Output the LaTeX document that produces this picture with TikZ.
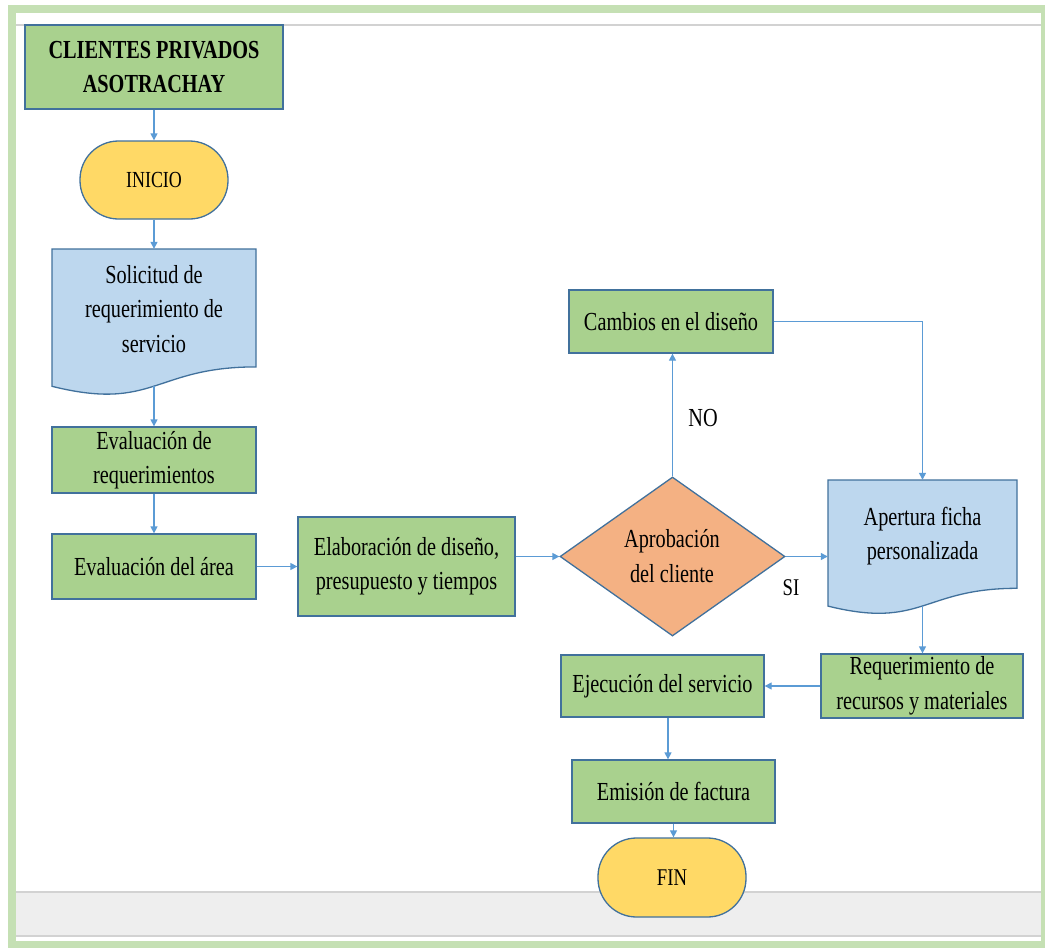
\documentclass[tikz,border=0pt]{standalone}
\usepackage{fontspec}
\setmainfont{Liberation Serif}[FakeStretch=0.78]
\usetikzlibrary{shapes.geometric,arrows.meta,calc}
\definecolor{frameG}{HTML}{C5E0B4}
\definecolor{boxG}{HTML}{A9D18E}
\definecolor{boxY}{HTML}{FFD966}
\definecolor{boxB}{HTML}{BDD7EE}
\definecolor{boxO}{HTML}{F4B183}
\definecolor{edgeC}{HTML}{41719C}
\definecolor{arrC}{HTML}{5B9BD5}
\definecolor{lineG}{HTML}{D2D2D2}
\definecolor{bandG}{HTML}{EEEEEE}
\begin{document}
\begin{tikzpicture}[x=1pt,y=-1pt,
  fnt/.style={font=\fontsize{26}{34.5}\selectfont},
  box/.style={draw=edgeC, line width=1.3pt, fill=boxG, inner sep=0pt, align=center, fnt},
  term/.style={box, fill=boxY, rounded corners=38.5pt},
  doc/.style={draw=edgeC, line width=1.3pt, fill=boxB},
  ghost/.style={draw=none, inner sep=0pt},
  txt/.style={inner sep=0pt, align=center, fnt},
  arr/.style={draw=arrC, line width=1.3pt, -{Triangle[length=7pt,width=7pt]}}]
\useasboundingbox (0,0) rectangle (1045,948);
% frame
\fill[white] (0,0) rectangle (1045,948);
\fill[frameG] (8,5) rectangle (1045,948);
\fill[white] (16,13) rectangle (1041,941);
\draw[lineG, line width=2pt] (16,25) -- (1041,25);
\fill[bandG] (16,892) rectangle (1041,935);
\draw[lineG, line width=2pt] (16,892) -- (1041,892);
\draw[lineG, line width=2pt] (16,935.5) -- (1041,935.5);

% nodes
\node[box, minimum width=258pt, minimum height=84pt, font=\fontsize{26}{34.5}\selectfont\bfseries] (cli) at (154,67) {CLIENTES PRIVADOS\\ASOTRACHAY};
\node[term, minimum width=148pt, minimum height=78pt, font=\fontsize{23}{30}\selectfont] (ini) at (154,180) {INICIO};

\draw[doc] (52,249) -- (256,249) -- (256,366.9) .. controls (154,366.9) and (154,411.8) .. (52,386.3) -- cycle;
\node[ghost, minimum width=204pt, minimum height=147pt] (sol) at (154,322.5) {};
\node[txt] (solt) at (154,309) {Solicitud de\\requerimiento de\\servicio};
\coordinate (solb) at (154,386.2);

\node[box, minimum width=204pt, minimum height=66pt] (evr) at (154,460) {Evaluación de\\requerimientos};
\node[box, minimum width=204pt, minimum height=65pt] (eva) at (154,566.5) {Evaluación del área};
\node[box, minimum width=217pt, minimum height=99pt] (ela) at (406.5,566.5) {Elaboración de diseño,\\presupuesto y tiempos};

\node[diamond, draw=edgeC, line width=1.3pt, fill=boxO, inner sep=0pt, minimum width=225pt, minimum height=159pt] (apr) at (672.5,556.5) {};
\node[txt] (aprt) at (672,556) {Aprobación\\del cliente};

\node[box, minimum width=204pt, minimum height=63pt] (cam) at (671,321.5) {Cambios en el diseño};

\draw[doc] (828,480) -- (1017,480) -- (1017,588.3) .. controls (922.5,588.3) and (922.5,629.5) .. (828,606.1) -- cycle;
\node[ghost, minimum width=189pt, minimum height=135pt] (ape) at (922.5,547.5) {};
\node[txt] (apet) at (922.5,536) {Apertura ficha\\personalizada};
\coordinate (apeb) at (922.5,606);

\node[box, minimum width=202pt, minimum height=64pt] (req) at (922,686) {Requerimiento de\\recursos y materiales};
\node[box, minimum width=203pt, minimum height=62pt] (eje) at (662.5,686) {Ejecución del servicio};
\node[box, minimum width=203pt, minimum height=63pt] (emi) at (673.5,791.5) {Emisión de factura};
\node[term, minimum width=148pt, minimum height=79pt, font=\fontsize{24}{30}\selectfont] (fin) at (672,877.5) {FIN};

\node[txt] (no) at (703,418) {NO};
\node[txt, font=\fontsize{24}{30}\selectfont] (si) at (791,588) {SI};
\coordinate (ejx) at (668,0);

% connectors
\draw[arr] (cli.south) -- (ini.north);
\draw[arr] (ini.south) -- (sol.north);
\draw[arr] (solb) -- (evr.north);
\draw[arr] (evr.south) -- (eva.north);
\draw[arr] (eva.east) -- (ela.west);
\draw[arr] (ela.east |- apr.west) -- (apr.west);
\draw[arr] (apr.east) -- (apr.east -| ape.west);
\draw[arr] (apr.north) -- (apr.north |- cam.south);
\draw[arr] (cam.east) -| (ape.north);
\draw[arr] (apeb) -- (apeb |- req.north);
\draw[arr] (req.west) -- (eje.east);
\draw[arr] (eje.south -| ejx) -- (emi.north -| ejx);
\draw[arr] (emi.south) -- (emi.south |- fin.north);
\end{tikzpicture}
\end{document}
